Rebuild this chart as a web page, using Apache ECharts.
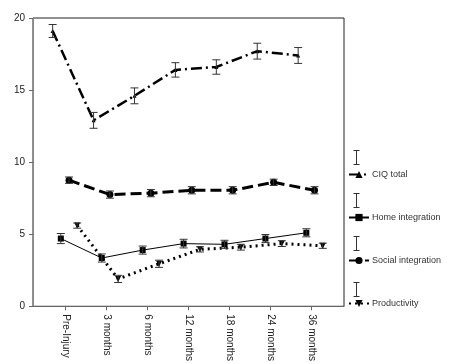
<!DOCTYPE html>
<html><head><meta charset="utf-8">
<script src="https://cdn.jsdelivr.net/npm/echarts@6/dist/echarts.min.js"></script>
<style>html,body{margin:0;padding:0;background:#fff}#c{width:456px;height:364px}</style>
</head><body><div id="c"></div>
<script>
const categories = ['Pre-Injury','3 months','6 months','12 months','18 months','24 months','36 months'];
const yTicks = [0,5,10,15,20];
const ciqTotal = [19.1,12.9,14.6,16.4,16.6,17.7,17.4];
const ciqErr = [0.45,0.55,0.55,0.5,0.5,0.55,0.55];
const homeInt = [4.7,3.35,3.9,4.35,4.3,4.7,5.1];
const homeErr = [0.35,0.28,0.28,0.3,0.28,0.28,0.28];
const socialInt = [8.75,7.75,7.85,8.05,8.05,8.6,8.05];
const socialErr = [0.22,0.25,0.25,0.25,0.25,0.22,0.25];
const productivity = [5.6,1.9,2.95,3.95,4.1,4.35,4.2];
const prodErr = [0.18,0.25,0.25,0.18,0.2,0.2,0.18];
const seriesNames = ['CIQ total','Home integration','Social integration','Productivity'];
const offsets = [-0.32,-0.12,0.08,0.28];

const chart = echarts.init(document.getElementById('c'), null, {renderer:'canvas'});
const vals = [ciqTotal, homeInt, socialInt, productivity];
const errs = [ciqErr, homeErr, socialErr, prodErr];
const styles = [
  {lw:2.5, type:[11,4,2,4], symbol:'triangle', size:4},
  {lw:1, type:'solid', symbol:'rect', size:6},
  {lw:3, type:[11,5], symbol:'circle', size:7},
  {lw:3, type:[2,4], symbol:'triangle', size:6, rotate:180}
];
const series = [];
vals.forEach((v,i)=>{
  const data = v.map((y,k)=>[k+offsets[i], y]);
  series.push({
    name: seriesNames[i], type:'line', data,
    symbol: styles[i].symbol, symbolSize: styles[i].size, symbolRotate: styles[i].rotate||0,
    lineStyle:{color:'#000', width:styles[i].lw, type:styles[i].type},
    itemStyle:{color:'#000'}, z:3
  });
  series.push({
    type:'custom', silent:true, z:4,
    data: v.map((y,k)=>[k+offsets[i], y-errs[i][k], y+errs[i][k]]),
    renderItem:(params, api)=>{
      const lo = api.coord([api.value(0), api.value(1)]);
      const hi = api.coord([api.value(0), api.value(2)]);
      const w = 4;
      const st = {stroke:'#333', lineWidth:1};
      return {type:'group', children:[
        {type:'line', shape:{x1:lo[0],y1:lo[1],x2:hi[0],y2:hi[1]}, style:st},
        {type:'line', shape:{x1:lo[0]-w,y1:lo[1],x2:lo[0]+w,y2:lo[1]}, style:st},
        {type:'line', shape:{x1:hi[0]-w,y1:hi[1],x2:hi[0]+w,y2:hi[1]}, style:st}
      ]};
    }
  });
});

const errIcons = [155,198,241,287].map(y=>({
  type:'group', left:351, top:y-7, children:[
    {type:'line', shape:{x1:3,y1:0,x2:3,y2:14}, style:{stroke:'#333',lineWidth:1}},
    {type:'line', shape:{x1:0,y1:0,x2:6,y2:0}, style:{stroke:'#333',lineWidth:1}},
    {type:'line', shape:{x1:0,y1:14,x2:6,y2:14}, style:{stroke:'#333',lineWidth:1}}
  ]
}));

chart.setOption({
  animation:false,
  backgroundColor:'#fff',
  grid:{left:33, right:112, top:18, bottom:54, show:true, borderColor:'#222', borderWidth:1},
  xAxis:{type:'value', min:-0.8, max:6.8,
    axisLine:{show:true, onZero:false, lineStyle:{color:'#666'}},
    splitLine:{show:false},
    axisTick:{show:true, customValues:[0,1,2,3,4,5,6], length:4, lineStyle:{color:'#666'}},
    axisLabel:{customValues:[0,1,2,3,4,5,6], rotate:-90, formatter:v=>categories[Math.round(v)], color:'#222', fontSize:10, fontFamily:'Liberation Sans', margin:8}
  },
  yAxis:{type:'value', min:0, max:20, interval:5,
    axisLine:{show:true, onZero:false, lineStyle:{color:'#888'}},
    splitLine:{show:false},
    axisTick:{show:true, length:4, lineStyle:{color:'#666'}},
    axisLabel:{color:'#222', fontSize:10, fontFamily:'Liberation Sans', margin:8, formatter:v=>yTicks.includes(v)?String(v):''}
  },
  legend:{orient:'vertical', left:343, top:165, itemWidth:20, itemHeight:9, itemGap:34,
    data:seriesNames, textStyle:{fontSize:9, color:'#333', fontFamily:'Liberation Sans', padding:[0,0,0,-2]}},
  graphic: errIcons,
  series
});
</script></body></html>
